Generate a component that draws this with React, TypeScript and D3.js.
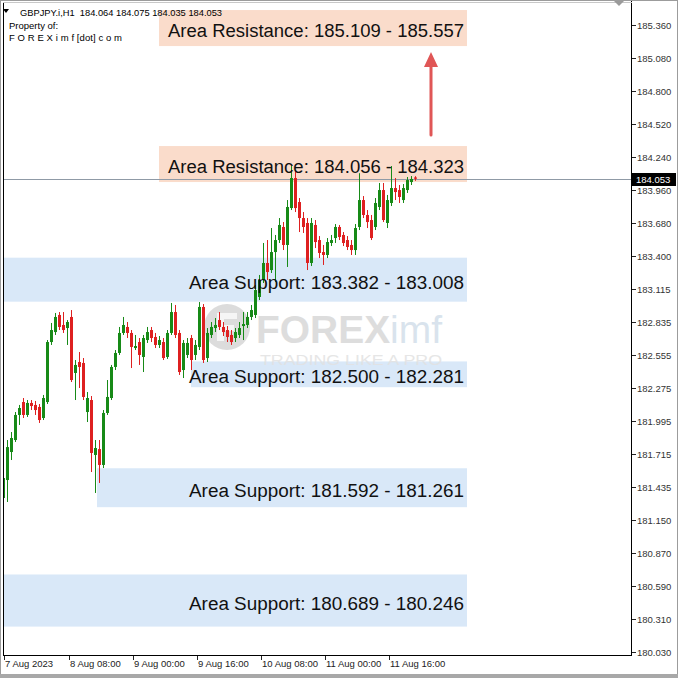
import React from 'react';
import * as d3 from 'd3';

const headerText = 'GBPJPY.i,H1  184.064 184.075 184.035 184.053';
const firstBar = Date.UTC(2023, 7, 7, 15);

const opens = [181.339,181.492,181.730,181.832,182.045,182.155,182.045,182.147,182.130,182.113,182.019,182.155,182.665,182.750,182.895,182.810,182.784,182.878,182.402,182.495,182.487,182.070,182.172,181.705,181.755,181.620,182.062,182.189,182.453,182.572,182.742,182.793,182.742,182.614,182.665,182.538,182.682,182.767,182.708,182.640,182.665,182.538,182.742,182.920,182.742,182.427,182.555,182.699,182.555,182.623,182.963,182.529,182.725,182.784,182.852,182.793,182.767,182.725,182.699,182.725,182.801,182.810,182.878,182.895,183.048,183.192,183.337,183.277,183.430,183.532,183.643,183.490,183.804,184.059,183.855,183.719,183.677,183.337,183.660,183.532,183.430,183.405,183.507,183.549,183.643,183.575,183.532,183.490,183.447,183.643,183.872,183.745,183.702,183.643,183.813,183.957,183.677,183.847,183.974,183.957,183.872,183.957,184.025,184.064];
const highs = [181.560,181.832,181.900,182.070,182.130,182.189,182.172,182.172,182.164,182.138,182.215,182.682,182.827,182.912,182.920,182.920,182.852,182.937,182.512,182.580,182.529,182.240,182.206,181.832,181.832,182.087,182.342,182.470,182.597,182.793,182.878,182.835,182.767,182.725,182.699,182.725,182.793,182.793,182.742,182.716,182.699,182.767,182.997,182.980,182.767,182.682,182.699,182.725,182.682,183.005,182.988,182.784,182.835,182.869,182.920,182.835,182.801,182.767,182.784,182.835,182.920,182.920,182.980,183.150,183.235,183.507,183.532,183.634,183.575,183.719,183.685,183.872,184.161,184.127,183.889,183.770,183.719,183.719,183.702,183.566,183.490,183.549,183.575,183.668,183.660,183.600,183.566,183.532,183.668,184.100,183.906,183.787,183.745,183.889,184.017,184.017,183.915,184.161,184.059,184.000,184.008,184.068,184.076,184.075];
const lows = [181.237,181.305,181.662,181.815,181.960,182.019,182.028,182.087,182.045,181.977,182.002,182.138,182.640,182.725,182.767,182.742,182.640,182.325,182.172,182.274,182.172,181.985,181.560,181.382,181.467,181.594,182.045,182.172,182.427,182.555,182.725,182.699,182.444,182.597,182.470,182.410,182.657,182.665,182.614,182.614,182.512,182.521,182.725,182.699,182.385,182.359,182.529,182.427,182.512,182.597,182.487,182.495,182.699,182.750,182.767,182.716,182.665,182.640,182.665,182.699,182.682,182.784,182.852,182.869,183.022,183.167,183.192,183.252,183.175,183.507,183.447,183.303,183.787,183.770,183.600,183.592,183.277,183.311,183.464,183.379,183.320,183.379,183.481,183.507,183.532,183.481,183.447,183.405,183.405,183.617,183.719,183.634,183.532,183.617,183.787,183.685,183.634,183.821,183.872,183.847,183.847,183.932,184.000,184.035];
const closes = [181.509,181.772,181.849,182.045,182.104,182.045,182.147,182.121,182.087,182.002,182.189,182.665,182.767,182.878,182.793,182.767,182.835,182.342,182.470,182.453,182.198,182.189,181.722,181.764,181.620,182.062,182.198,182.453,182.572,182.742,182.810,182.742,182.623,182.631,182.555,182.699,182.750,182.699,182.640,182.682,182.529,182.742,182.920,182.725,182.410,182.657,182.657,182.512,182.640,182.963,182.512,182.742,182.793,182.810,182.793,182.750,182.708,182.665,182.750,182.784,182.818,182.878,182.937,183.107,183.192,183.337,183.260,183.430,183.532,183.660,183.490,183.813,184.059,183.804,183.719,183.643,183.337,183.677,183.515,183.422,183.405,183.515,183.532,183.643,183.558,183.507,183.473,183.447,183.634,183.872,183.745,183.685,183.549,183.847,183.957,183.702,183.872,183.974,183.940,183.898,183.974,184.042,184.051,184.053];

const priceTickLabels = ['185.360','185.080','184.800','184.520','184.240','183.960','183.680','183.400','183.115','182.835','182.555','182.275','181.995','181.715','181.435','181.150','180.870','180.590','180.310','180.030'];
const timeTickDates = ['2023-08-07T15:00Z','2023-08-08T08:00Z','2023-08-09T00:00Z','2023-08-09T16:00Z','2023-08-10T08:00Z','2023-08-11T00:00Z','2023-08-11T16:00Z'];

const zoneLabels = ['Area Resistance: 185.109 - 185.557','Area Resistance: 184.056 - 184.323','Area Support: 183.382 - 183.008','Area Support: 182.500 - 182.281','Area Support: 181.592 - 181.261','Area Support: 180.689 - 180.246'];
const zoneKinds = ['resistance','resistance','support','support','support','support'];
const zoneTops = [185.487,184.331,183.382,182.500,181.592,180.689];
const zoneBottoms = [185.181,184.025,183.008,182.281,181.261,180.246];
const zoneStarts = ['2023-08-09T06:00Z','2023-08-09T06:00Z','2023-08-07T13:00Z','2023-08-09T14:00Z','2023-08-08T14:30Z','2023-08-07T13:00Z'];
const zoneEnd = '2023-08-12T11:00Z';

const arrowTime = '2023-08-12T02:00Z';
const arrowFrom = 184.425;
const arrowTo = 185.13;
const currentPrice = 184.053;

const FONT = '"Liberation Sans", Arial, sans-serif';

export default function App() {
  const n = closes.length;
  const hour = 3600 * 1000;
  const x = d3.scaleUtc().domain([new Date(firstBar), new Date(firstBar + (n - 1) * hour)]).range([3, 3 + (n - 1) * 4]);
  const y = d3.scaleLinear().domain([180.03, 185.36]).range([652, 25]);
  const fmtTime = d3.utcFormat('%-d %b %H:%M');
  const fmtFirst = d3.utcFormat('%-d %b %Y');
  const green = '#178a17';
  const red = '#de2020';

  const plotL = 4, plotR = 631, plotT = 3, plotB = 655;
  const ax = Math.round(x(new Date(arrowTime)));

  return (
    <svg width={678} height={678} style={{ position: 'absolute', left: 0, top: 0, display: 'block', background: '#fff' }} fontFamily={FONT}>
      <defs>
        <clipPath id="plot"><rect x={plotL} y={plotT} width={plotR - plotL} height={plotB - plotT} /></clipPath>
      </defs>
      <rect x={0} y={0} width={678} height={678} fill="#fff" />
      <g clipPath="url(#plot)">
        {zoneLabels.map((lab, i) => {
          const x0 = x(new Date(zoneStarts[i]));
          const x1 = x(new Date(zoneEnd));
          const yt = y(zoneTops[i]);
          const yb = y(zoneBottoms[i]);
          return (
            <rect key={'z' + i} x={x0} y={yt} width={x1 - x0} height={yb - yt}
              fill={zoneKinds[i] === 'resistance' ? '#fadccb' : '#d9e8f8'} />
          );
        })}
        {/* watermark */}
        <g opacity={0.85}>
          <circle cx={227} cy={327} r={23} fill="#d6d6d6" />
          <path d="M217 313 h20 v6 h-13 v6 h10 v6 h-10 v10 h-7 z" fill="#f4f4f4" />
          <text x={256} y={343} fontSize={39} fill="#d8d8d8" textLength={186} lengthAdjust="spacingAndGlyphs">
            <tspan fontWeight={700}>FOREX</tspan><tspan fill="#d3dfea">imf</tspan>
          </text>
          <text x={260} y={365} fontSize={14} fill="#e2e2e2" textLength={182} lengthAdjust="spacingAndGlyphs">TRADING LIKE A PRO</text>
        </g>
        <line x1={plotL} x2={plotR} y1={Math.round(y(currentPrice)) + 0.5} y2={Math.round(y(currentPrice)) + 0.5} stroke="#8f9aa6" strokeWidth={1} />
        {closes.map((c, i) => {
          const cx = Math.round(x(new Date(firstBar + i * hour)));
          const o = opens[i];
          const up = c >= o;
          const col = up ? green : red;
          const yTop = y(Math.max(o, c));
          const yBot = y(Math.min(o, c));
          return (
            <g key={'c' + i}>
              <line x1={cx + 0.5} x2={cx + 0.5} y1={y(highs[i])} y2={y(lows[i])} stroke={col} strokeWidth={1} />
              <rect x={cx - 1} y={yTop} width={3} height={Math.max(1, yBot - yTop)} fill={col} />
            </g>
          );
        })}
        {zoneLabels.map((lab, i) => {
          const x1 = x(new Date(zoneEnd));
          const yc = (y(zoneTops[i]) + y(zoneBottoms[i])) / 2;
          const w = zoneKinds[i] === 'resistance' ? 296 : 275;
          return (
            <text key={'t' + i} x={x1 - 3 - w} y={yc + 9} fontSize={18} fill="#111" textLength={w} lengthAdjust="spacingAndGlyphs">{lab}</text>
          );
        })}
        {/* arrow */}
        <line x1={ax} x2={ax} y1={y(arrowFrom)} y2={y(arrowTo) + 12} stroke="#e05656" strokeWidth={3} strokeLinecap="round" />
        <path d={`M${ax} ${y(arrowTo)} L${ax - 7} ${y(arrowTo) + 15} L${ax + 7} ${y(arrowTo) + 15} Z`} fill="#e05656" />
      </g>

      {/* header */}
      <path d="M3 9 L9 9 L6 13 Z" fill="#000" />
      <text x={20} y={16} fontSize={9.5} fill="#000" textLength={202} lengthAdjust="spacingAndGlyphs" style={{ whiteSpace: 'pre' }}>{headerText}</text>
      <text x={9} y={29} fontSize={9.5} fill="#000">Property of:</text>
      <text x={9} y={41} fontSize={9.5} fill="#000" textLength={113} lengthAdjust="spacing">F O R E X i m f [dot] c o m</text>

      {/* frame */}
      <line x1={plotL - 0.5} x2={plotL - 0.5} y1={plotT} y2={plotB + 1} stroke="#000" />
      <line x1={plotL - 1} x2={plotR + 1} y1={plotB + 0.5} y2={plotB + 0.5} stroke="#000" />
      <line x1={plotR + 0.5} x2={plotR + 0.5} y1={0} y2={plotB + 1} stroke="#000" />
      <line x1={plotL - 1} x2={plotR + 1} y1={plotT - 0.5} y2={plotT - 0.5} stroke="#c8c8c8" />

      {/* right axis */}
      {priceTickLabels.map((t) => {
        const yy = Math.round(y(+t)) + 0.5;
        return (
          <g key={t}>
            <line x1={plotR + 1} x2={plotR + 5} y1={yy} y2={yy} stroke="#222" />
            <text x={637} y={yy + 3.5} fontSize={9.5} fill="#333">{t}</text>
          </g>
        );
      })}
      <rect x={632} y={Math.round(y(currentPrice)) - 6} width={44} height={13} fill="#000" />
      <text x={636} y={Math.round(y(currentPrice)) + 4} fontSize={9.5} fill="#fff">{currentPrice.toFixed(3)}</text>

      {/* bottom axis */}
      {timeTickDates.map((d, i) => {
        const dt = new Date(d);
        const xx = Math.max(4, Math.round(x(dt)) - 2);
        return (
          <g key={d}>
            <line x1={xx + 0.5} x2={xx + 0.5} y1={plotB + 1} y2={plotB + 5} stroke="#222" />
            <text x={xx + 1} y={667} fontSize={9.5} fill="#222">{i === 0 ? fmtFirst(dt) : fmtTime(dt)}</text>
          </g>
        );
      })}

      {/* window chrome */}
      <path d="M613 0 L625 0 L619 6 Z" fill="#9a9a9a" />
      <rect x={0.5} y={0.5} width={677} height={677} fill="none" stroke="#9c9c9c" />
      <rect x={0} y={674} width={678} height={4} fill="#a8a8a8" />
    </svg>
  );
}
